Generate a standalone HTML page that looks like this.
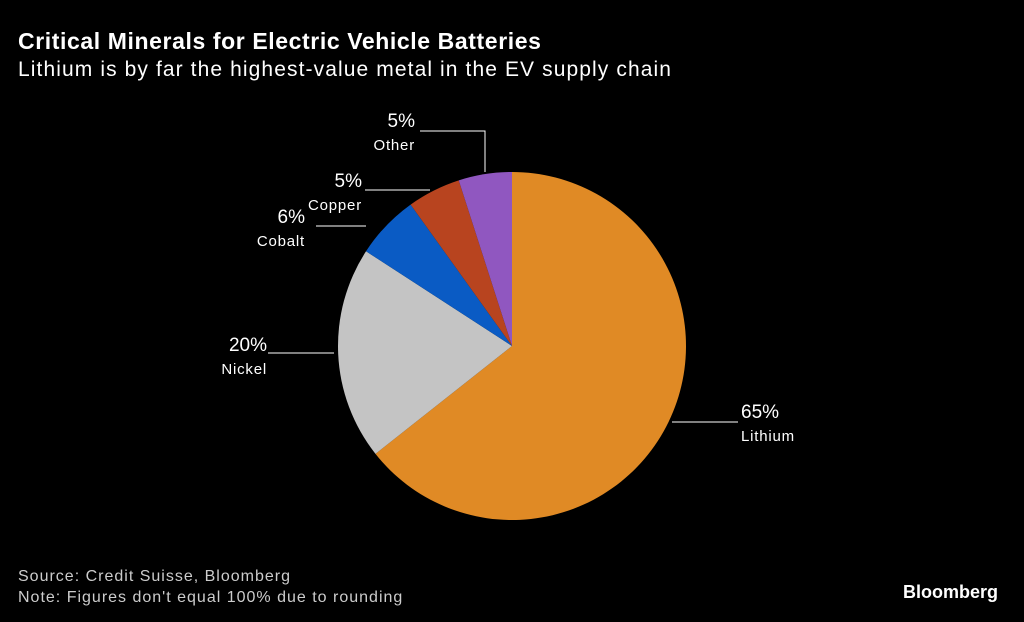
<!DOCTYPE html>
<html><head><meta charset="utf-8"><style>
body{margin:0;background:#000;width:1024px;height:622px;overflow:hidden;font-family:"Liberation Sans",sans-serif;color:#fff}
.t{position:absolute;left:18px;top:28px;font-size:23px;font-weight:bold;letter-spacing:0.6px}
.s{position:absolute;left:18px;top:58px;font-size:21px;letter-spacing:1.1px}
.src{position:absolute;left:18px;top:566px;font-size:16px;color:#ccc;line-height:21px;letter-spacing:1px}
.bb{position:absolute;right:26px;top:582px;font-size:18px;font-weight:bold}
</style></head><body>
<div class="t">Critical Minerals for Electric Vehicle Batteries</div>
<div class="s">Lithium is by far the highest-value metal in the EV supply chain</div>
<svg id="c" width="1024" height="622" style="position:absolute;left:0;top:0"></svg>
<div class="src">Source: Credit Suisse, Bloomberg<br>Note: Figures don't equal 100% due to rounding</div>
<div class="bb">Bloomberg</div>
<script>
const categories=["Lithium","Nickel","Cobalt","Copper","Other"];
const values=[65,20,6,5,5];
const colors=["#e08a25","#c4c4c4","#0a5bc4","#b8441f","#9057c0"];
const labelPos=[[741,411,672,422,738,422,"start"],[267,344,268,353,334,353,"end"],[305,216,316,226,366,226,"end"],[362,180,365,190,430,190,"end"],[415,120,420,131,485,131,"end"]];
const svg=document.getElementById('c');const NS="http://www.w3.org/2000/svg";
const cx=512,cy=346,r=174;const tot=values.reduce((a,b)=>a+b,0);
let a=0;
function pt(ang){return [cx+r*Math.sin(ang),cy-r*Math.cos(ang)];}
values.forEach((v,i)=>{
 const a1=a+v/tot*2*Math.PI;const p0=pt(a),p1=pt(a1);
 const p=document.createElementNS(NS,'path');
 p.setAttribute('d',`M${cx},${cy}L${p0[0]},${p0[1]}A${r},${r} 0 ${a1-a>Math.PI?1:0} 1 ${p1[0]},${p1[1]}Z`);
 p.setAttribute('fill',colors[i]);
 
 
 svg.appendChild(p);a=a1;
 const L=labelPos[i];
 const ln=document.createElementNS(NS,'polyline');
 let pts=`${L[2]},${L[3]} ${L[4]},${L[5]}`;if(i==4)pts+=` 485,172`;
 ln.setAttribute('points',pts);ln.setAttribute('fill','none');ln.setAttribute('stroke','#fff');ln.setAttribute('stroke-width','1');
 
 
 svg.appendChild(ln);
 const t1=document.createElementNS(NS,'text');t1.setAttribute('x',L[0]);t1.setAttribute('y',L[1]+7);t1.setAttribute('font-size','19');t1.setAttribute('fill','#fff');t1.setAttribute('text-anchor',L[6]);t1.textContent=v+'%';
 
 
 svg.appendChild(t1);
 const t2=document.createElementNS(NS,'text');t2.setAttribute('x',L[0]);t2.setAttribute('y',L[1]+30);t2.setAttribute('font-size','15');t2.setAttribute('letter-spacing','0.8');t2.setAttribute('fill','#fff');t2.setAttribute('text-anchor',L[6]);t2.textContent=categories[i];
 
 
 svg.appendChild(t2);
});
</script>
</body></html>
